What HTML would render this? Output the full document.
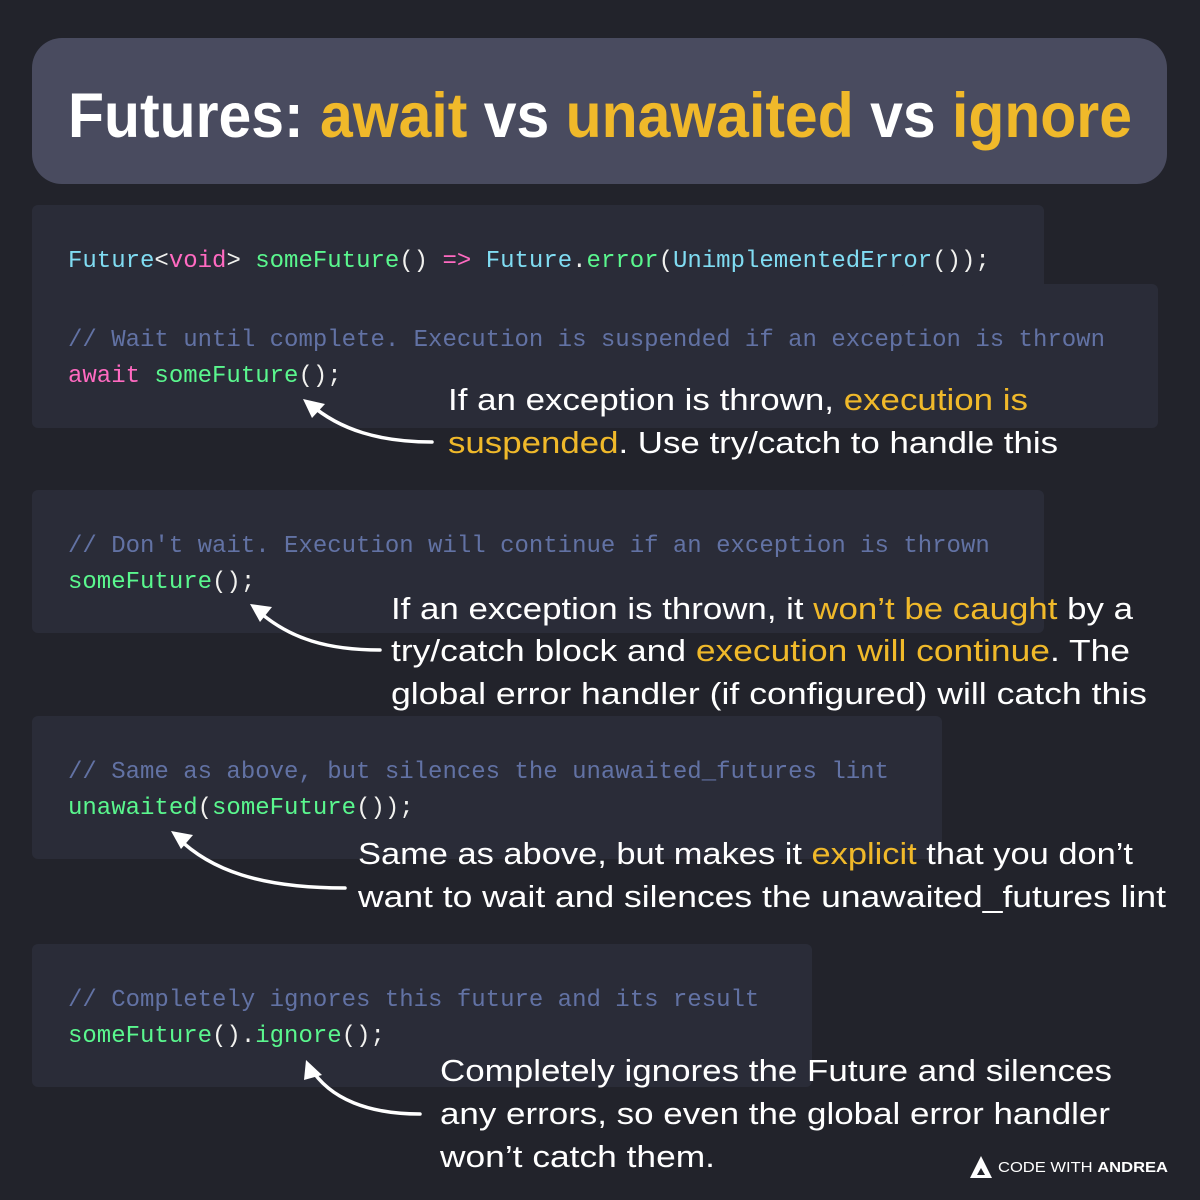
<!DOCTYPE html>
<html><head><meta charset="utf-8"><style>
html,body{margin:0;padding:0;background:#22232b;}
svg{display:block}
.c{font-family:"Liberation Mono",monospace;font-size:24px;}
.a{font-family:"Liberation Sans",sans-serif;font-size:31px;fill:#fff;}
.y{fill:#f0b92a}
.cy{fill:#80dcf2}.pk{fill:#ff6ac1}.gr{fill:#5af78e}.wh{fill:#f1f1ee}.cm{fill:#6272a4}
</style></head><body>
<svg width="1200" height="1200" viewBox="0 0 1200 1200" xmlns="http://www.w3.org/2000/svg">
<defs><marker id="ah" markerWidth="10" markerHeight="10" refX="2" refY="5" orient="auto" markerUnits="userSpaceOnUse"></marker></defs>
<rect width="1200" height="1200" fill="#22232b"/>
<rect x="32" y="38" width="1135" height="146" rx="30" fill="#494b5f"/>
<text x="68" y="137" font-family="Liberation Sans,sans-serif" font-weight="bold" font-size="63" fill="#fff" textLength="1064" lengthAdjust="spacingAndGlyphs">Futures: <tspan class="y">await</tspan> vs <tspan class="y">unawaited</tspan> vs <tspan class="y">ignore</tspan></text>

<rect x="32" y="205" width="1012" height="223" rx="6" fill="#2a2c38"/>
<rect x="900" y="284" width="258" height="144" rx="6" fill="#2a2c38"/>
<rect x="32" y="490" width="1012" height="143" rx="6" fill="#2a2c38"/>
<rect x="32" y="716" width="910" height="143" rx="6" fill="#2a2c38"/>
<rect x="32" y="944" width="780" height="143" rx="6" fill="#2a2c38"/>

<text class="c" x="68" y="267"><tspan class="cy">Future</tspan><tspan class="wh">&lt;</tspan><tspan class="pk">void</tspan><tspan class="wh">&gt; </tspan><tspan class="gr">someFuture</tspan><tspan class="wh">() </tspan><tspan class="pk">=&gt;</tspan><tspan class="wh"> </tspan><tspan class="cy">Future</tspan><tspan class="wh">.</tspan><tspan class="gr">error</tspan><tspan class="wh">(</tspan><tspan class="cy">UnimplementedError</tspan><tspan class="wh">());</tspan></text>
<text class="c cm" x="68" y="346">// Wait until complete. Execution is suspended if an exception is thrown</text>
<text class="c" x="68" y="382"><tspan class="pk">await</tspan><tspan class="wh"> </tspan><tspan class="gr">someFuture</tspan><tspan class="wh">();</tspan></text>

<text class="c cm" x="68" y="552">// Don't wait. Execution will continue if an exception is thrown</text>
<text class="c" x="68" y="588"><tspan class="gr">someFuture</tspan><tspan class="wh">();</tspan></text>

<text class="c cm" x="68" y="778">// Same as above, but silences the unawaited_futures lint</text>
<text class="c" x="68" y="814"><tspan class="gr">unawaited</tspan><tspan class="wh">(</tspan><tspan class="gr">someFuture</tspan><tspan class="wh">());</tspan></text>

<text class="c cm" x="68" y="1006">// Completely ignores this future and its result</text>
<text class="c" x="68" y="1042"><tspan class="gr">someFuture</tspan><tspan class="wh">().</tspan><tspan class="gr">ignore</tspan><tspan class="wh">();</tspan></text>

<g class="a">
<text x="448" y="410" textLength="580" lengthAdjust="spacingAndGlyphs">If an exception is thrown, <tspan class="y">execution is</tspan></text>
<text x="448" y="453" textLength="610" lengthAdjust="spacingAndGlyphs"><tspan class="y">suspended</tspan>. Use try/catch to handle this</text>
<text x="391" y="619" textLength="742" lengthAdjust="spacingAndGlyphs">If an exception is thrown, it <tspan class="y">won’t be caught</tspan> by a</text>
<text x="391" y="661" textLength="739" lengthAdjust="spacingAndGlyphs">try/catch block and <tspan class="y">execution will continue</tspan>. The</text>
<text x="391" y="704" textLength="756" lengthAdjust="spacingAndGlyphs">global error handler (if configured) will catch this</text>
<text x="358" y="864" textLength="775" lengthAdjust="spacingAndGlyphs">Same as above, but makes it <tspan class="y">explicit</tspan> that you don’t</text>
<text x="358" y="907" textLength="808" lengthAdjust="spacingAndGlyphs">want to wait and silences the unawaited_futures lint</text>
<text x="440" y="1081" textLength="672" lengthAdjust="spacingAndGlyphs">Completely ignores the Future and silences</text>
<text x="440" y="1124" textLength="670" lengthAdjust="spacingAndGlyphs">any errors, so even the global error handler</text>
<text x="440" y="1167" textLength="275" lengthAdjust="spacingAndGlyphs">won’t catch them.</text>
</g>

<g fill="none" stroke="#fff" stroke-width="3.5" stroke-linecap="round">
<path d="M432 442 C380 442 340 430 310 404"/>
<path d="M380 650 C330 650 290 640 256 609"/>
<path d="M345 888 C260 888 210 870 177 837"/>
<path d="M420 1114 C370 1114 330 1100 310 1067"/>
</g>
<g fill="#fff">
<polygon points="303,399 325,404 312,418"/>
<polygon points="250,604 272,607 260,622"/>
<polygon points="171,831 193,835 181,849"/>
<polygon points="306,1060 322,1075 304,1080"/>
</g>

<polygon points="981,1156 970,1178 992,1178" fill="#fff"/>
<polygon points="981,1168 977,1175 985,1175" fill="#22232b"/>
<text x="998" y="1172" font-family="Liberation Sans,sans-serif" font-size="15" fill="#fff" textLength="170" lengthAdjust="spacingAndGlyphs">CODE <tspan font-weight="normal">WITH</tspan> <tspan font-weight="bold">ANDREA</tspan></text>
</svg>
</body></html>
